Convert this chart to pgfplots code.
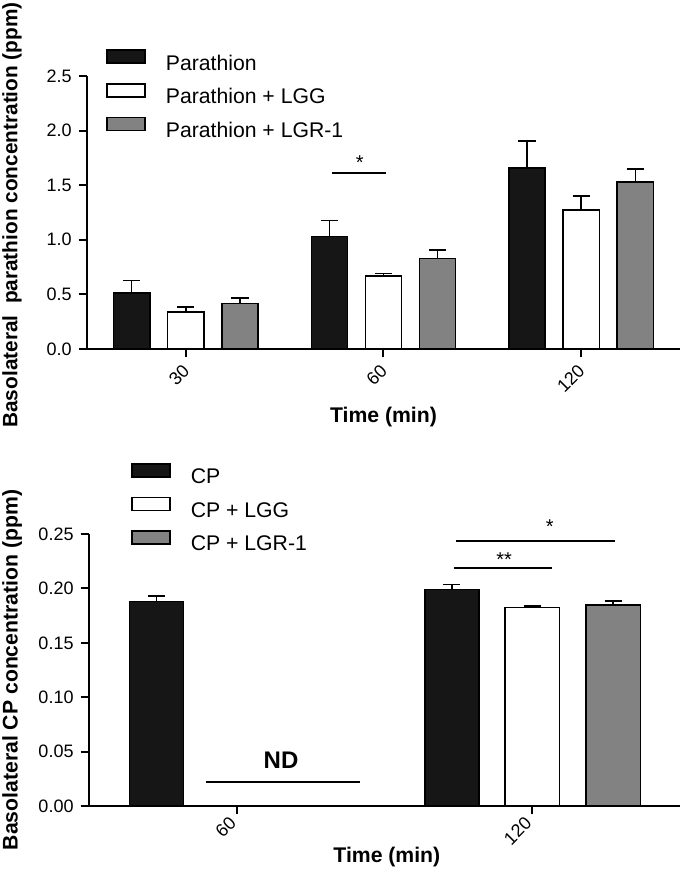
\documentclass[border=0pt]{standalone}
\usepackage{fontspec}
\setmainfont{Liberation Sans}
\usepackage{pgfplots}
\pgfplotsset{compat=1.18}
\definecolor{barblack}{RGB}{22,22,22}
\definecolor{bargray}{RGB}{130,130,130}
\pgfplotsset{
  mystyle/.style={
    scale only axis,
    axis lines*=left,
    axis line style={line width=1pt},
    tick style={line width=1pt, black},
    major tick length=4.2pt,
    tick align=outside,
    ymin=0, clip=false,
    /pgf/number format/assume math mode=true,
    xticklabel style={rotate=45, anchor=north east, font=\fontsize{9}{10}\selectfont},
    yticklabel style={font=\fontsize{9}{10}\selectfont},
    label style={font=\bfseries\fontsize{10.6}{12}\selectfont},
    legend cell align=left,
    legend style={draw=none, fill=none, inner sep=0pt, row sep=3pt, column sep=8pt,
      font=\fontsize{10.6}{12}\selectfont, anchor=north west},
    legend image code/.code={\draw[##1, draw=black, line width=0.75pt] (0pt,0.36em-3.25pt) rectangle (19pt,0.36em+3.25pt);},
  },
  mybar/.style={ybar, bar width=0.183, bar shift=0pt, draw=black, line width=0.75pt,
    error bars/y dir=plus, error bars/y explicit,
    error bars/error bar style={line width=0.75pt, black},
    error bars/error mark options={line width=0.75pt, black, mark size=4.3pt, rotate=90}},
}
\begin{document}
\begin{tikzpicture}
\path[use as bounding box] (-43.5pt,-264.5pt) rectangle (296.5pt,174.5pt);
% ---------- top panel ----------
\begin{axis}[mystyle,
  width=296.5pt, height=136.5pt,
  xmin=-0.5, xmax=2.5, ymax=2.5,
  xtick={0,1,2}, xticklabels={30,60,120},
  xticklabel style={yshift=3pt},
  ytick={0,0.5,1,1.5,2,2.5},
  yticklabel style={/pgf/number format/.cd, fixed, fixed zerofill, precision=1},
  xlabel={Time (min)}, ylabel={Basolateral\ \ parathion concentration (ppm)},
  xlabel style={at={(axis description cs:0.5,-0.249)}, anchor=center},
  ylabel style={at={(axis description cs:-0.1265,0.491)}, anchor=center, font=\bfseries\fontsize{10.4}{12}\selectfont},
  legend style={at={(0.032,1.099)}},
]
\addplot[mybar, fill=barblack] coordinates {(-0.274,0.514) +- (0,0.114) (0.726,1.031) +- (0,0.145) (1.726,1.659) +- (0,0.247)};
\addlegendentry{Parathion}
\addplot[mybar, fill=white] coordinates {(0,0.339) +- (0,0.046) (1,0.668) +- (0,0.025) (2,1.275) +- (0,0.126)};
\addlegendentry{Parathion + LGG}
\addplot[mybar, fill=bargray] coordinates {(0.274,0.416) +- (0,0.049) (1.274,0.831) +- (0,0.074) (2.274,1.530) +- (0,0.120)};
\addlegendentry{Parathion + LGR-1}
\draw[line width=1pt] (axis cs:0.739,1.616) -- (axis cs:1.011,1.616);
\node[font=\fontsize{10}{12}\selectfont] at (axis cs:0.88,1.71) {*};
\end{axis}
% ---------- bottom panel ----------
\begin{axis}[mystyle, at={(1pt,-228.5pt)},
  width=295.5pt, height=136pt,
  xmin=-0.5, xmax=1.5, ymax=0.25,
  xtick={0,1}, xticklabels={60,120},
  xticklabel style={yshift=6pt},
  ytick={0,0.05,0.1,0.15,0.2,0.25},
  yticklabel style={/pgf/number format/.cd, fixed, fixed zerofill, precision=2},
  xlabel={Time (min)}, ylabel={Basolateral CP concentration (ppm)},
  xlabel style={at={(axis description cs:0.504,-0.1875)}, anchor=center},
  ylabel style={at={(axis description cs:-0.130,0.5)}, anchor=center},
  legend style={at={(0.071,1.261)}},
]
\addplot[mybar, fill=barblack] coordinates {(-0.272,0.188) +- (0,0.005) (0.728,0.199) +- (0,0.0046)};
\addlegendentry{CP}
\addplot[mybar, fill=white] coordinates {(1,0.1824) +- (0,0.0013)};
\addlegendentry{CP + LGG}
\addplot[mybar, fill=bargray] coordinates {(1.274,0.1846) +- (0,0.004)};
\addlegendentry{CP + LGR-1}
\draw[line width=1pt] (axis cs:-0.104,0.0218) -- (axis cs:0.418,0.0218);
\node[font=\bfseries\fontsize{12}{14}\selectfont] at (axis cs:0.15,0.042) {ND};
\draw[line width=1pt] (axis cs:0.736,0.219) -- (axis cs:1.066,0.219);
\node[font=\fontsize{10}{12}\selectfont] at (axis cs:0.905,0.226) {**};
\draw[line width=1pt] (axis cs:0.743,0.244) -- (axis cs:1.279,0.244);
\node[font=\fontsize{10}{12}\selectfont] at (axis cs:1.059,0.2566) {*};
\end{axis}
\end{tikzpicture}
\end{document}
